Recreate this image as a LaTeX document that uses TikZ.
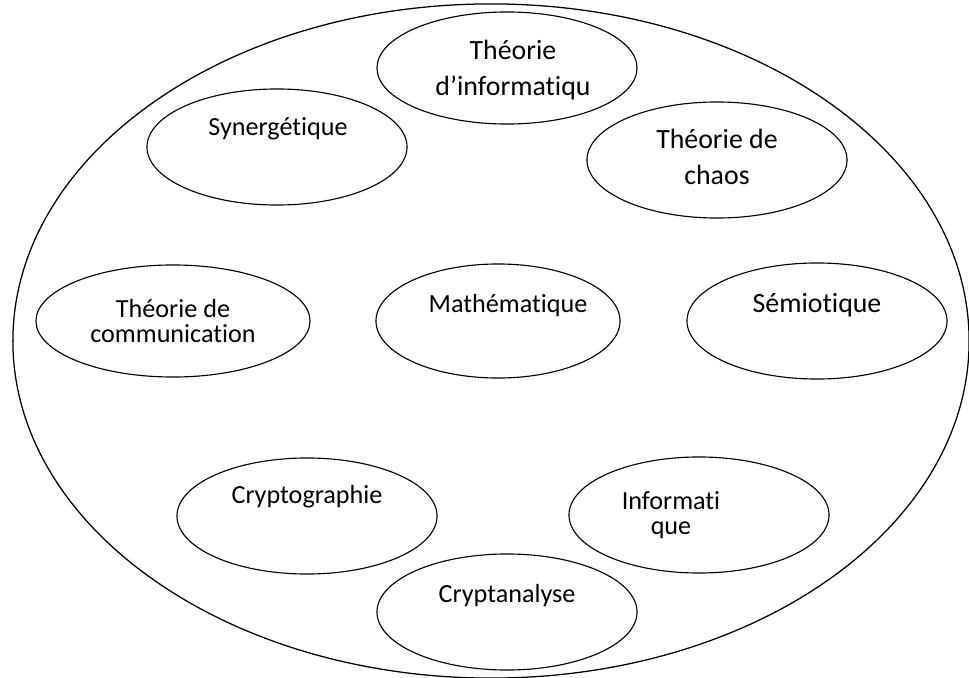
\documentclass[tikz,border=0pt]{standalone}
\usepackage{fontspec}
\setmainfont{Carlito}[RawFeature=-liga]
\usetikzlibrary{shapes.geometric}

\begin{document}
\begin{tikzpicture}[x=0.025cm, y=-0.025cm,
	ell/.style={draw, ellipse, line width=0.8pt, inner sep=0pt, minimum width=6.5cm, minimum height=2.9cm},
	lbl/.style={align=center, inner sep=0pt, font=\fontsize{18.6}{17.5}\selectfont},
	biglbl/.style={align=center, inner sep=0pt, font=\fontsize{19.8}{26}\selectfont}]
	\useasboundingbox (0,0) rectangle (969,678);
	\node[draw, ellipse, line width=0.9pt, inner sep=0pt, minimum width=23.9cm, minimum height=16.85cm] (ensemble) at (491,341) {};
	\node[ell, minimum height=2.8cm] (theoinfo) at (507,68) {};
	\node[ell] (synergie) at (277,147) {};
	\node[ell] (chaos) at (717,160) {};
	\node[ell, minimum width=6.85cm, minimum height=2.8cm] (communic) at (173,321) {};
	\node[ell, minimum width=6.1cm, minimum height=2.85cm] (maths) at (498,321) {};
	\node[ell] (semio) at (817,321) {};
	\node[ell] (crypto) at (307,516) {};
	\node[ell] (informa) at (699,515) {};
	\node[ell] (cryptan) at (507,612) {};
	\node[biglbl] (theoinfotxt) at (513,70) {Théorie\\d’informatiqu};
	\node[lbl] (synergietxt) at (278,129) {Synergétique};
	\node[biglbl] (chaostxt) at (717,157) {Théorie de\\chaos};
	\node[lbl] (communictxt) at (173,321) {Théorie de\\communication};
	\node[lbl] (mathstxt) at (508,306) {Mathématique};
	\node[biglbl] (semiotxt) at (817,305) {Sémiotique};
	\node[lbl] (cryptotxt) at (307,497) {Cryptographie};
	\node[lbl] (informatxt) at (671,515) {Informati\\que};
	\node[lbl] (cryptantxt) at (507,596) {Cryptanalyse};
\end{tikzpicture}
\end{document}
